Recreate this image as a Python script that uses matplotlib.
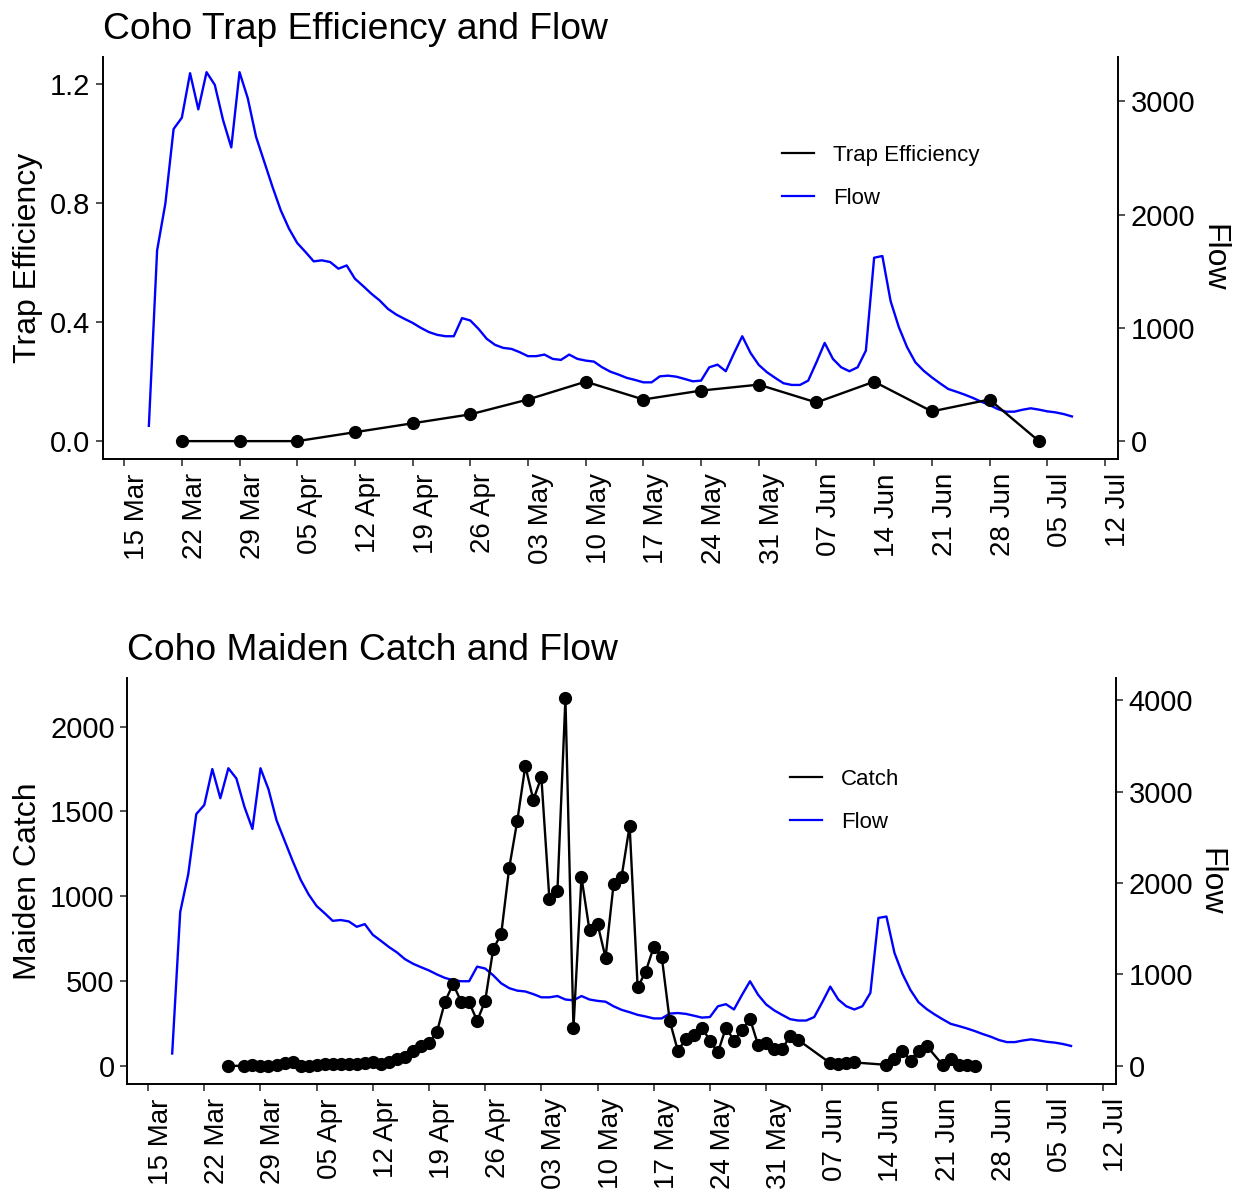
import matplotlib
matplotlib.use('Agg')
import matplotlib.pyplot as plt
import matplotlib.dates as mdates
from matplotlib.lines import Line2D
import numpy as np
import pandas as pd

plt.rcParams['font.family'] = ['Liberation Sans', 'DejaVu Sans']

# Flow diario (18 Mar - 08 Jul)
flow = [135, 1684, 2097, 2755, 2855, 3248, 2929, 3257, 3145, 2835,
        2593, 3257, 3027, 2688, 2466, 2245, 2038, 1876, 1749, 1670,
        1587, 1596, 1581, 1522, 1551, 1434, 1369, 1301, 1242, 1168,
        1118, 1080, 1044, 1000, 962, 938, 926, 926, 1086, 1065,
        991, 903, 850, 823, 814, 785, 750, 750, 764, 726,
        717, 764, 726, 711, 702, 652, 613, 587, 558, 540,
        519, 519, 572, 578, 569, 549, 528, 534, 652, 675,
        617, 776, 926, 779, 673, 608, 558, 511, 496, 496,
        534, 696, 867, 726, 652, 617, 652, 799, 1619, 1634,
        1236, 1006, 829, 696, 622, 563, 510, 460, 436, 410,
        381, 348, 319, 283, 260, 260, 277, 290, 278, 263,
        254, 239, 218]
flow_dates = pd.date_range('2019-03-18', periods=len(flow), freq='D')

# Eficiencia de la trampa (semanal)
trap_dates = pd.to_datetime(['2019-03-22', '2019-03-29', '2019-04-05', '2019-04-12',
                             '2019-04-19', '2019-04-26', '2019-05-03', '2019-05-10',
                             '2019-05-17', '2019-05-24', '2019-05-31', '2019-06-07',
                             '2019-06-14', '2019-06-21', '2019-06-28', '2019-07-04'])
trap_eff = [0.0, 0.0, 0.0, 0.03, 0.06, 0.09, 0.14, 0.20,
            0.14, 0.17, 0.19, 0.13, 0.20, 0.10, 0.14, 0.0]

# Captura diaria (con dias faltantes)
catch_dates = pd.DatetimeIndex(
    [pd.Timestamp('2019-03-25')]
    + list(pd.date_range('2019-03-27', '2019-06-04'))
    + list(pd.date_range('2019-06-08', '2019-06-11'))
    + list(pd.date_range('2019-06-15', '2019-06-20'))
    + list(pd.date_range('2019-06-22', '2019-06-26')))
catch = [0,
         0, 6, 0, 0, 6, 16, 20, 0, 2, 6,
         10, 12, 10, 12, 12, 16, 20, 12, 25, 41,
         55, 90, 118, 134, 202, 379, 483, 379, 375, 265,
         383, 688, 778, 1169, 1444, 1768, 1568, 1702, 984, 1028,
         2167, 222, 1112, 798, 837, 638, 1071, 1116, 1415, 462,
         556, 700, 644, 265, 90, 157, 183, 226, 149, 79,
         226, 149, 212, 277, 124, 134, 98, 98, 177, 153,
         16, 10, 16, 20,
         6, 41, 90, 31, 90, 118,
         6, 39, 4, 6, 0]

week_ticks = pd.date_range('2019-03-15', '2019-07-12', freq='7D')
x_lim = (pd.Timestamp('2019-03-15') - pd.Timedelta(days=2.6),
         pd.Timestamp('2019-03-15') + pd.Timedelta(days=120.6))

k_top = 0.000381   # flow -> eficiencia
k_bot = 0.5387     # flow -> captura

fig = plt.figure(figsize=(12.39, 11.96), dpi=100)
ax1 = fig.add_axes([0.0829, 0.6160, 0.8195, 0.3366])
ax2 = fig.add_axes([0.1027, 0.0934, 0.7980, 0.3393])


def estilo(ax):
    for s in ['top', 'right']:
        ax.spines[s].set_visible(False)
    for s in ['left', 'bottom']:
        ax.spines[s].set_linewidth(1.4)
    ax.tick_params(axis='both', length=5, width=1.2, color='#333333',
                   labelsize=21, pad=4, labelcolor='black')
    ax.tick_params(axis='x', pad=5, labelsize=20)
    ax.set_xticks(week_ticks)
    ax.xaxis.set_major_formatter(mdates.DateFormatter('%d %b'))
    ax.set_xlim(x_lim)
    for lab in ax.get_xticklabels():
        lab.set_rotation(90)
        lab.set_ha('left')
        lab.set_va('top')


# Panel superior
ax1.plot(flow_dates, np.array(flow) * k_top, color='blue', lw=1.7)
ax1.plot(trap_dates, trap_eff, color='black', lw=1.7, marker='o', ms=8.5)
estilo(ax1)
ax1.set_ylim(-0.061, 1.293)
ax1.set_yticks([0.0, 0.4, 0.8, 1.2])
ax1.set_yticklabels(['0.0', '0.4', '0.8', '1.2'])
ax1.set_ylabel('Trap Efficiency', fontsize=23, labelpad=5)
ax1.set_title('Coho Trap Efficiency and Flow', loc='left', fontsize=26.8, pad=13)
sec1 = ax1.secondary_yaxis('right', functions=(lambda y: y / k_top, lambda f: f * k_top))
sec1.spines['right'].set_linewidth(1.4)
sec1.set_yticks([0, 1000, 2000, 3000])
sec1.tick_params(length=5, width=1.2, color='#333333', labelsize=21, pad=4)
sec1.set_ylabel('Flow', fontsize=23, rotation=270, va='bottom', labelpad=2)

# Panel inferior
ax2.plot(flow_dates, np.array(flow) * k_bot, color='blue', lw=1.7)
ax2.plot(catch_dates, catch, color='black', lw=1.7, marker='o', ms=8.5)
estilo(ax2)
ax2.set_ylim(-108.75, 2283.75)
ax2.set_yticks([0, 500, 1000, 1500, 2000])
ax2.set_ylabel('Maiden Catch', fontsize=23, labelpad=5)
ax2.set_title('Coho Maiden Catch and Flow', loc='left', fontsize=26.8, pad=13)
sec2 = ax2.secondary_yaxis('right', functions=(lambda y: y / k_bot, lambda f: f * k_bot))
sec2.spines['right'].set_linewidth(1.4)
sec2.set_yticks([0, 1000, 2000, 3000, 4000])
sec2.tick_params(length=5, width=1.2, color='#333333', labelsize=21, pad=4)
sec2.set_ylabel('Flow', fontsize=23, rotation=270, va='bottom', labelpad=2)

# Leyendas
h1 = [Line2D([], [], color='black', lw=1.6), Line2D([], [], color='blue', lw=1.6)]
fig.legend(h1, ['Trap Efficiency', 'Flow'], loc='upper left',
           bbox_to_anchor=(0.631, 0.879), frameon=False, fontsize=16,
           handlelength=1.45, handletextpad=0.85, labelspacing=1.0,
           borderpad=0, borderaxespad=0)
fig.legend(h1, ['Catch', 'Flow'], loc='upper left',
           bbox_to_anchor=(0.6376, 0.357), frameon=False, fontsize=16,
           handlelength=1.45, handletextpad=0.85, labelspacing=1.0,
           borderpad=0, borderaxespad=0)

fig.savefig('out.png', dpi=100)
